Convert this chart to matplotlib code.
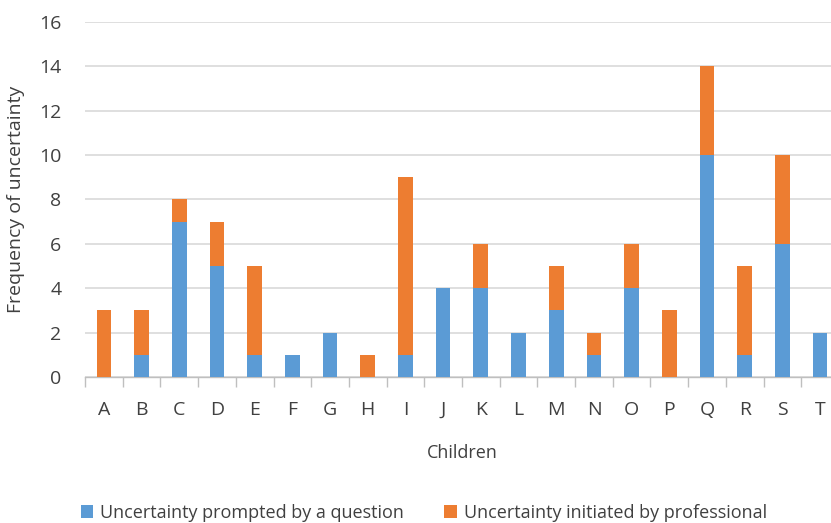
import matplotlib.pyplot as plt
import numpy as np

children = list("ABCDEFGHIJKLMNOPQRST")
prompted = [0, 1, 7, 5, 1, 1, 2, 0, 1, 4, 4, 2, 3, 1, 4, 0, 10, 1, 6, 2]
initiated = [3, 2, 1, 2, 4, 0, 0, 1, 8, 0, 2, 0, 2, 1, 2, 3, 4, 4, 4, 0]

BLUE = "#5B9BD5"
ORANGE = "#ED7D31"
TEXT = "#404040"

plt.rcParams["font.family"] = ["Open Sans", "DejaVu Sans"]

fig = plt.figure(figsize=(8.31, 5.23), dpi=100)
ax = fig.add_axes([0.1023, 0.2792, 0.9073, 0.679])

x = np.arange(len(children))
ax.bar(x, prompted, width=0.39, color=BLUE, zorder=3,
       label="Uncertainty prompted by a question")
ax.bar(x, initiated, width=0.39, bottom=prompted, color=ORANGE, zorder=3,
       label="Uncertainty initiated by professional")

ax.set_xlim(-0.5, len(children) - 0.5)
ax.set_ylim(0, 16)
ax.set_yticks(range(0, 17, 2))
ax.yaxis.grid(True, color="#D9D9D9", linewidth=1.2, zorder=0)
ax.tick_params(axis="y", length=0, pad=17, labelsize=14, labelcolor=TEXT)

# category boundaries get the tick marks, centres get the letters
ax.set_xticks(np.arange(-0.5, len(children), 1.0))
ax.set_xticklabels([])
ax.tick_params(axis="x", which="major", length=7, width=1, color="#BFBFBF")
ax.set_xticks(x, minor=True)
ax.set_xticklabels(children, minor=True)
ax.tick_params(axis="x", which="minor", length=0, pad=17, labelsize=14,
               labelcolor=TEXT)

for side in ("top", "right", "left"):
    ax.spines[side].set_visible(False)
ax.spines["bottom"].set_color("#BFBFBF")
ax.spines["bottom"].set_linewidth(1)

ax.set_xlabel("Children", fontsize=13, color=TEXT, labelpad=18)
ax.set_ylabel("Frequency of uncertainty", fontsize=14, color=TEXT, labelpad=10)

fig.legend(loc="center", bbox_to_anchor=(0.51, 0.02), ncol=2, frameon=False,
           fontsize=13, handlelength=0.7, handleheight=0.7, handletextpad=0.4,
           columnspacing=2.2, labelcolor=TEXT)

fig.savefig("out.png", dpi=100)
